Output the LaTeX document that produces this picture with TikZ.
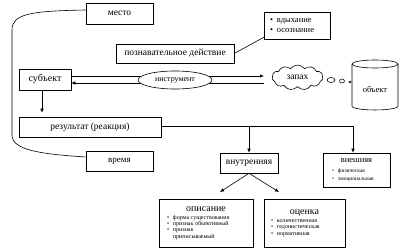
\documentclass[tikz,border=0pt]{standalone}
\usepackage{fontspec}
\setmainfont{Liberation Serif}
\usetikzlibrary{arrows.meta,shapes.geometric,shapes.symbols}
\newcommand{\fsz}[1]{\fontsize{#1}{#1}\selectfont}
\newcommand{\bitm}[2][6pt]{\par\noindent\hangindent=#1\hangafter=1\makebox[#1][l]{\textbullet}#2}
\tikzset{
  box/.style={draw, line width=0.6pt, inner sep=0pt, fill=white, align=center},
  arr/.style={-{Latex[length=4pt,width=3.5pt]}, line width=0.6pt},
  ln/.style={line width=0.6pt}
}
\begin{document}
\begin{tikzpicture}[x=1pt,y=-1pt]
\useasboundingbox (0,0) rectangle (408,251);
% boxes
\node[box, minimum width=67pt, minimum height=21pt, font={\fsz{9.5}}] (mesto) at (119.5,13.5) {место};
\node[box, minimum width=67pt, minimum height=20pt, font={\fsz{9}}] (vrem) at (119.5,161) {время};
\node[box, minimum width=118pt, minimum height=19pt, font={\fsz{9.5}}] (poz) at (175,53.5) {познавательное действие};
\node[box, minimum width=66pt, minimum height=27pt] (bul) at (297,25.5)
  {\begin{minipage}{54pt}\fontsize{8.5}{10}\selectfont\bitm[7pt]{вдыхание}\bitm[7pt]{осознание}\end{minipage}};
\node[box, minimum width=52pt, minimum height=21pt, font={\fsz{10}}] (subj) at (45,79.5) {субъект};
\node[box, minimum width=142pt, minimum height=20pt, font={\fsz{9.5}}] (res) at (90,127) {результат (реакция)};
\node[cloud, draw, ln, cloud puffs=11, cloud puff arc=110, aspect=2.1, minimum width=51pt, minimum height=25pt, inner sep=0pt, font={\fsz{9.5}}] (zap) at (297.5,77.5) {запах};
% thought bubbles
\node[ellipse, draw, ln, minimum width=8pt, minimum height=5pt, inner sep=0pt] (b1) at (331,80) {};
\node[ellipse, draw, ln, minimum width=5pt, minimum height=4pt, inner sep=0pt] (b2) at (342,81) {};
\node[circle, draw, ln, minimum size=2pt, inner sep=0pt] (b3) at (350,82) {};
% cylinder
\draw[ln] (352,64) -- (352,106) .. controls (352,111.3) and (398,111.3) .. (398,106) -- (398,64);
\draw[ln] (375,64) ellipse [x radius=23pt, y radius=4pt];
\node[font={\fsz{8.5}}] (obj) at (375,90) {объект};
% lines through instrument
\coordinate (ua) at (264,76);
\coordinate (lb) at (264,83);
\draw[arr] ([yshift=3.5pt]subj.east) -- (ua);
\draw[arr] (lb) -- ([yshift=-3.5pt]subj.east);
\node[ellipse, draw, ln, fill=white, minimum width=74pt, minimum height=18pt, inner sep=0pt, font={\fsz{8}}] (instr) at (175,80) {инструмент};
% lower boxes
\node[box, minimum width=58pt, minimum height=20pt, font={\fsz{9.5}}] (vnutr) at (249,163) {внутренняя};
\node[box, minimum width=67pt, minimum height=34pt] (vnesh) at (356.5,170)
  {\begin{minipage}{49pt}{\centering\fsz{8.5}внешняя\par}\vspace{1.5pt}\fontsize{5.5}{8}\selectfont\bitm{физическая}\bitm{эмоциональная}\end{minipage}};
\node[box, minimum width=94pt, minimum height=48pt] (opis) at (206,223)
  {\begin{minipage}{78pt}{\centering\fsz{10}описание\par}\vspace{2pt}\fontsize{6}{6.2}\selectfont\bitm{форма существования}\bitm{признак объективный}\bitm{признак\\приписываемый}\end{minipage}};
\node[box, minimum width=81pt, minimum height=48pt] (otsen) at (304.5,223)
  {\begin{minipage}{67pt}{\centering\fsz{10}оценка\par}\vspace{2pt}\fontsize{6}{6.2}\selectfont\bitm{количественная}\bitm{гедонистическая}\bitm{нормативная}\end{minipage}};
% connectors
\draw[ln] ([yshift=3.5pt]mesto.west) .. controls (30,11) and (12,14) .. (12,30) -- (12,135)
  .. controls (12,150) and (40,154) .. ([yshift=4pt]vrem.west);
\draw[ln] (poz.east) -- ([yshift=2pt]bul.south west);
\coordinate (sd) at ([xshift=-3pt]subj.south);
\draw[arr, shorten >=4pt] (sd) -- (sd |- res.north);
\coordinate (rl) at ([yshift=1pt]res.east);
\coordinate (xv) at ([xshift=-3.5pt]vnesh.north);
\draw[arr] (rl) -| (xv);
\draw[arr] (rl -| vnutr.north) -- (vnutr.north);
\coordinate (c1) at (220,192);
\coordinate (c2) at (279,192);
\draw[arr] (vnutr.south) -- (c1);
\draw[arr] (vnutr.south) -- (c2);
\end{tikzpicture}
\end{document}
